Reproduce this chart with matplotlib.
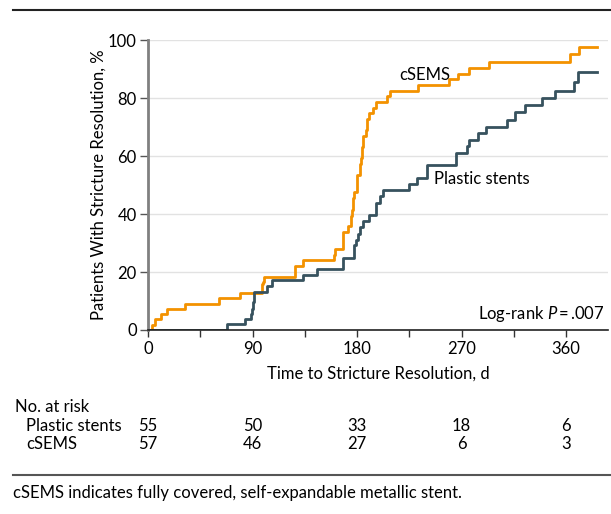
import matplotlib
matplotlib.use('Agg')
import matplotlib.pyplot as plt
from matplotlib.ticker import MultipleLocator

plt.rcParams['font.family'] = ['Lato', 'DejaVu Sans']
plt.rcParams['mathtext.fontset'] = 'custom'
plt.rcParams['mathtext.it'] = 'Lato:italic'
fs = 12

# cumulative stricture resolution (%) at each step time (days)
csems_days = [0, 3.7, 5.7, 11.5, 16.7, 31.6, 61.5, 79.4, 97.8, 98.9, 100.3, 126.5,
              133.4, 160.4, 161.3, 167.8, 172.1, 174.8, 175.7, 176.5, 177.7, 180.1,
              182.6, 183.7, 184.6, 185.4, 187.3, 188.7, 190.0, 193.5, 196.0, 206.0,
              208.0, 232.7, 259.2, 266.7, 276.2, 293.5, 363.7, 370.9, 386.5]
csems_pct = [0, 1.7, 3.7, 5.4, 7.1, 8.9, 10.9, 12.6, 15.7, 16.6, 18.2, 22.0,
             24.1, 25.9, 27.9, 33.8, 35.8, 39.2, 41.5, 45.5, 47.5, 53.3,
             57.2, 59.3, 63.1, 67.0, 69.0, 72.7, 74.8, 76.7, 78.8, 80.7,
             82.6, 84.5, 86.5, 88.4, 90.4, 92.3, 95.2, 97.5, 97.5]

plastic_days = [0, 67.9, 83.4, 88.6, 89.4, 90.3, 90.9, 102.4, 106.4, 133.4, 145.2,
                168.0, 177.3, 179.1, 180.5, 182.6, 185.4, 190.3, 196.4, 199.5, 202.5,
                224.6, 231.3, 240.5, 265.0, 274.5, 276.8, 284.5, 291.2, 308.7, 315.9,
                324.9, 339.0, 350.8, 366.6, 370.4, 386.5]
plastic_pct = [0, 1.9, 3.9, 5.6, 7.3, 9.6, 13.2, 15.1, 17.2, 18.9, 21.0,
               25.0, 29.2, 31.2, 33.1, 35.4, 37.5, 39.7, 43.9, 46.1, 48.4,
               50.3, 52.6, 57.0, 61.2, 63.5, 65.6, 67.9, 70.0, 72.5, 75.1,
               77.5, 79.9, 82.5, 85.4, 89.1, 89.1]

risk_days = [0, 90, 180, 270, 360]
risk_plastic = [55, 50, 33, 18, 6]
risk_csems = [57, 46, 27, 6, 3]

orange = '#f39200'
slate = '#37525e'

fig = plt.figure(figsize=(6.11, 5.14), dpi=100)
ax = fig.add_axes([0.2422, 0.358, 0.7528, 0.564])

ax.step(csems_days, csems_pct, where='post', color=orange, lw=2)
ax.step(plastic_days, plastic_pct, where='post', color=slate, lw=2)

ax.set_xlim(0, 396)
ax.set_ylim(0, 100)
ax.xaxis.set_major_locator(MultipleLocator(90))
ax.xaxis.set_minor_locator(MultipleLocator(45))
ax.yaxis.set_major_locator(MultipleLocator(20))
ax.grid(axis='y', color='#e2e2e2', lw=1)
ax.set_axisbelow(True)

for s in ['top', 'right']:
    ax.spines[s].set_visible(False)
ax.spines['left'].set_color('#808080')
ax.spines['left'].set_linewidth(2)
ax.spines['bottom'].set_color('#222222')
ax.spines['bottom'].set_linewidth(1.2)
ax.tick_params(axis='x', which='both', length=5, width=1, color='#333333',
               labelsize=fs, pad=3)
ax.tick_params(axis='y', length=6, width=1, color='#555555', labelsize=fs, pad=2)

ax.set_xlabel('Time to Stricture Resolution, d', fontsize=fs, labelpad=6)
ax.set_ylabel('Patients With Stricture Resolution, %', fontsize=fs, labelpad=1)

ax.text(238, 88, 'cSEMS', fontsize=fs, ha='center', va='center')
ax.text(246, 52, 'Plastic stents', fontsize=fs, ha='left', va='center')
ax.text(393, 5.5, 'Log-rank $P$\u2009=\u2009.007', fontsize=fs, ha='right', va='center')

# numbers at risk
fig.text(15 / 611, 1 - 407 / 514, 'No. at risk', fontsize=fs, va='center')
fig.text(26 / 611, 1 - 426 / 514, 'Plastic stents', fontsize=fs, va='center')
fig.text(26 / 611, 1 - 444 / 514, 'cSEMS', fontsize=fs, va='center')
for d, p, c in zip(risk_days, risk_plastic, risk_csems):
    xf = fig.transFigure.inverted().transform(ax.transData.transform((d, 0)))[0]
    fig.text(xf, 1 - 426 / 514, str(p), fontsize=fs, ha='center', va='center')
    fig.text(xf, 1 - 444 / 514, str(c), fontsize=fs, ha='center', va='center')

fig.add_artist(plt.Line2D([13 / 611, 1], [1 - 10 / 514] * 2, color='#222222', lw=1.5))
fig.add_artist(plt.Line2D([13 / 611, 1], [1 - 475 / 514] * 2, color='#555555', lw=1.5))
fig.text(13 / 611, 1 - 493 / 514, 'cSEMS indicates fully covered, self-expandable metallic stent.',
         fontsize=fs, va='center')

fig.savefig('out.png', dpi=100)
